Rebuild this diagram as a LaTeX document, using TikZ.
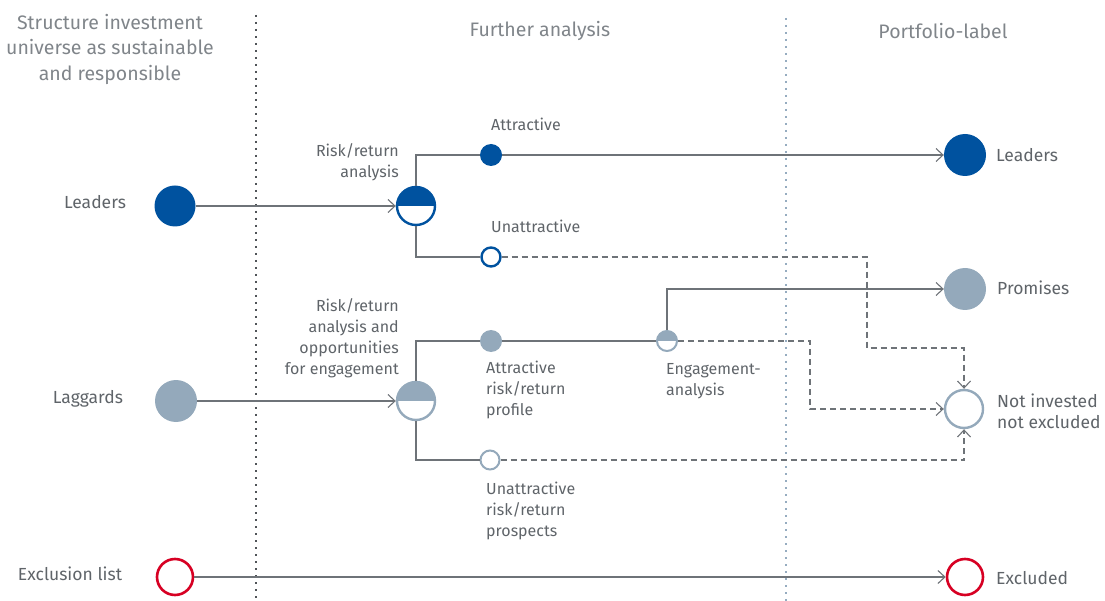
\documentclass[tikz,border=0pt]{standalone}
\usepackage{fontspec}
\setmainfont{Fira Sans}
\usetikzlibrary{arrows.meta}
\definecolor{dblue}{RGB}{0,82,159}
\definecolor{gblue}{RGB}{148,169,187}
\definecolor{xred}{RGB}{215,0,35}
\definecolor{lgray}{RGB}{110,115,120}
\definecolor{tgray}{RGB}{95,100,105}
\definecolor{hgray}{RGB}{128,133,138}
\definecolor{divdark}{RGB}{80,84,88}
\definecolor{divblue}{RGB}{150,172,192}
\begin{document}
\begin{tikzpicture}[x=1pt,y=-1pt,
  conn/.style={draw=lgray,line width=1.1pt},
  arr/.style={-{Straight Barb[length=7pt,width=13pt,line width=1.1pt]}},
  dsh/.style={dash pattern=on 6pt off 4pt},
  fdot/.style={circle,inner sep=0pt,fill=#1},
  odot/.style={circle,inner sep=0pt,draw=#1,fill=white,line width=2.4pt},
  hdot/.style={circle,inner sep=0pt,draw=#1,fill=white,line width=2.4pt,
    path picture={\fill[#1] (path picture bounding box.north west) rectangle (path picture bounding box.east);}},
  lbl/.style={text=tgray,inner sep=0pt,font=\fontsize{16}{21}\selectfont},
  big/.style={font=\fontsize{17.5}{21}\selectfont},
  hdr/.style={text=hgray,inner sep=0pt,font=\fontsize{19.5}{25.5}\selectfont,align=center},
  divider/.style={line width=2.4pt,dash pattern=on 2.4pt off 4.6pt}
]
\useasboundingbox (0,0) rectangle (1105,601);
% dividers
\draw[divider,divdark] (256,15) -- (256,601);
\draw[divider,divblue] (786,18) -- (786,601);
% headers
\node[hdr] (h1) at (110,49) {Structure investment\\universe as sustainable\\and responsible};
\node[hdr] (h2) at (540,31) {Further analysis};
\node[hdr] (h3) at (943,31) {Portfolio-label};
% left column
\node[lbl,big] (tl) at (95,202) {Leaders};
\node[lbl,big] (tg) at (88,399) {Laggards};
\node[lbl,big] (te) at (70,574) {Exclusion list};
\node[fdot=dblue,minimum size=41pt] (L0) at (175,206) {};
\node[fdot=gblue,minimum size=42pt] (G0) at (176,401) {};
\node[odot=xred,minimum size=36pt,line width=2.6pt] (E0) at (175,577) {};
% right column
\node[fdot=dblue,minimum size=42pt] (L9) at (965,155) {};
\node[fdot=gblue,minimum size=42pt] (P9) at (965,289) {};
\node[odot=gblue,minimum size=38pt] (N9) at (964,409) {};
\node[odot=xred,minimum size=36pt,line width=2.6pt] (E9) at (965,577) {};
\node[lbl,big,anchor=west] (rl) at (996,155) {Leaders};
\node[lbl,big,anchor=west] (rp) at (997,288) {Promises};
\node[lbl,big,anchor=west,align=left] (rn) at (997,411.5) {Not invested\\not excluded};
\node[lbl,big,anchor=west] (rx) at (996,578) {Excluded};
% middle: leaders
\node[hdot=dblue,minimum size=38pt] (LH) at (416,206) {};
\node[fdot=dblue,minimum size=22pt] (LA) at (491,155) {};
\node[odot=dblue,minimum size=19pt] (LU) at (491,257) {};
\node[lbl,anchor=east,align=right] (t1) at (399,162) {Risk/return\\analysis};
\node[lbl,anchor=west] (t2) at (491,124) {Attractive};
\node[lbl,anchor=west] (t3) at (491,226) {Unattractive};
% middle: laggards
\node[hdot=gblue,minimum size=38pt] (GH) at (416,401) {};
\node[fdot=gblue,minimum size=22pt] (GA) at (491,341) {};
\node[hdot=gblue,minimum size=20pt,line width=2pt] (GE) at (667,341) {};
\node[odot=gblue,minimum size=19pt,line width=2pt] (GU) at (490,460) {};
\node[lbl,anchor=east,align=right] (t4) at (399,338.5) {Risk/return\\analysis and\\opportunities\\for engagement};
\node[lbl,anchor=west,align=left] (t5) at (486,390) {Attractive\\risk/return\\profile};
\node[lbl,anchor=west,align=left] (t6) at (666,381.5) {Engagement-\\analysis};
\node[lbl,anchor=west,align=left] (t7) at (486,511) {Unattractive\\risk/return\\prospects};
\coordinate (k1) at (867,348);
\coordinate (k2) at (810,409);
% connectors
\draw[conn,arr] (L0.east) -- (LH.west);
\draw[conn,arr] (G0.east) -- (GH.west);
\draw[conn,arr] (E0.east) -- (E9.west);
\draw[conn] (LH.north) |- (LA.west);
\draw[conn,arr] (LA.east) -- (L9.west);
\draw[conn] (LH.south) |- (LU.west);
\draw[conn,dsh,arr] (LU.east) -| (k1) -| (N9.north);
\draw[conn] (GH.north) |- (GA.west);
\draw[conn] (GA.east) -- (GE.west);
\draw[conn,arr] (GE.north) |- (P9.west);
\draw[conn,dsh,arr] (GE.east) -| (k2) -- (N9.west);
\draw[conn] (GH.south) |- (GU.west);
\draw[conn,dsh,arr] (GU.east) -| (N9.south);
\end{tikzpicture}
\end{document}
